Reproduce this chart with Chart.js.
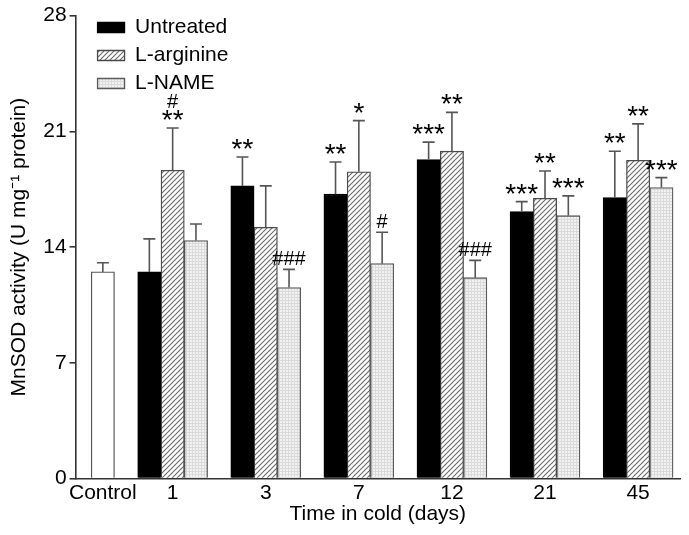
<!DOCTYPE html>
<html>
<head>
<meta charset="utf-8">
<script src="https://cdn.jsdelivr.net/npm/chart.js@4.4.1/dist/chart.umd.min.js"></script>
<style>
  html, body { margin: 0; padding: 0; background: #fff; }
  #wrap { width: 689px; height: 535px; }
</style>
</head>
<body>
<div id="wrap"><canvas id="chartSOD"></canvas></div>
<script>
const days = ["1", "3", "7", "12", "21", "45"];
const controlLabel = "Control";
const controlValue = 12.5;
const controlErr = 0.55;

const untreated = [12.5, 17.7, 17.2, 19.3, 16.15, 17.0];
const untreatedErr = [2.0, 1.75, 1.95, 1.05, 0.6, 2.8];
const arginine = [18.65, 15.2, 18.55, 19.8, 16.95, 19.25];
const arginineErr = [2.55, 2.5, 3.1, 2.35, 1.65, 2.2];
const lname = [14.4, 11.55, 13.0, 12.15, 15.9, 17.6];
const lnameErr = [1.0, 1.1, 1.9, 1.05, 1.2, 0.6];

const untreatedSig = ["", "**", "**", "***", "***", "**"];
const arginineSig = ["#\n**", "", "*", "**", "**", "**"];
const lnameSig = ["", "###", "#", "###", "***", "***"];

const yTicks = [0, 7, 14, 21, 28];

const FONT = "'Liberation Sans', Arial, Helvetica, sans-serif";
const CONTROL_POS = -0.75; // control sits closer to the first group

function makeHatch() {
    let c = document.createElement("canvas");
    c.width = 5; c.height = 5;
    let g = c.getContext("2d");
    g.fillStyle = "#ffffff";
    g.fillRect(0, 0, 5, 5);
    g.strokeStyle = "#6a6a6a";
    g.lineWidth = 1.1;
    g.beginPath();
    g.moveTo(-1, 6); g.lineTo(6, -1);
    g.moveTo(-1, 1); g.lineTo(1, -1);
    g.moveTo(4, 6); g.lineTo(6, 4);
    g.stroke();
    return g.createPattern(c, "repeat");
}

function makeDots() {
    let c = document.createElement("canvas");
    c.width = 3; c.height = 3;
    let g = c.getContext("2d");
    g.fillStyle = "#f2f2f2";
    g.fillRect(0, 0, 3, 3);
    g.fillStyle = "#dadada";
    g.fillRect(0, 0, 3, 1);
    g.fillRect(0, 0, 1, 3);
    return g.createPattern(c, "repeat");
}

let hatch = makeHatch();
let dots = makeDots();

function toPoints(values) {
    return values.map(function (v, i) { return { x: i, y: v }; });
}

// nudge the legend inside the plot area, as in the original figure
let legendShift = {
    id: "legendShift",
    afterLayout: function (chart) {
        if (chart.legend) {
            chart.legend.left += 15;
            chart.legend.top += 10;
        }
    }
};

let errorBars = {
    id: "errorBars",
    afterDatasetsDraw: function (chart) {
        let ctx = chart.ctx;
        let yScale = chart.scales.y;
        ctx.save();
        ctx.strokeStyle = "#555555";
        ctx.lineWidth = 1.6;
        chart.data.datasets.forEach(function (ds, di) {
            let meta = chart.getDatasetMeta(di);
            meta.data.forEach(function (bar, i) {
                let v = ds.data[i].y;
                let top = yScale.getPixelForValue(v + ds.errors[i]);
                ctx.beginPath();
                ctx.moveTo(bar.x, bar.y);
                ctx.lineTo(bar.x, top);
                ctx.moveTo(bar.x - 6, top);
                ctx.lineTo(bar.x + 6, top);
                ctx.stroke();

                let sig = ds.signif ? ds.signif[i] : "";
                if (!sig) return;
                let parts = sig.split("\n").reverse();
                let y = top;
                ctx.fillStyle = "#000";
                ctx.textAlign = "center";
                ctx.textBaseline = "alphabetic";
                parts.forEach(function (p) {
                    if (p.indexOf("*") >= 0) {
                        ctx.font = "28px " + FONT;
                        ctx.fillText(p, bar.x, y + 1);
                        y -= 16;
                    } else {
                        ctx.font = "20px " + FONT;
                        ctx.fillText(p, bar.x, y - 4);
                        y -= 18;
                    }
                });
            });
        });
        ctx.restore();
    }
};

let barBase = {
    barThickness: 23.3,
    borderWidth: 1.3,
    borderSkipped: "bottom"
};

new Chart(document.getElementById("chartSOD"), {
    type: "bar",
    data: {
        datasets: [
            Object.assign({
                label: "Untreated",
                data: toPoints(untreated),
                errors: untreatedErr,
                signif: untreatedSig,
                backgroundColor: "#000000",
                borderColor: "#000000"
            }, barBase),
            Object.assign({
                label: "L-arginine",
                data: toPoints(arginine),
                errors: arginineErr,
                signif: arginineSig,
                backgroundColor: hatch,
                borderColor: "#4a4a4a"
            }, barBase),
            Object.assign({
                label: "L-NAME",
                data: toPoints(lname),
                errors: lnameErr,
                signif: lnameSig,
                backgroundColor: dots,
                borderColor: "#5a5a5a"
            }, barBase),
            Object.assign({
                label: controlLabel,
                data: [{ x: CONTROL_POS, y: controlValue }],
                errors: [controlErr],
                backgroundColor: "#ffffff",
                borderColor: "#555555",
                grouped: false
            }, barBase)
        ]
    },
    options: {
        responsive: true,
        maintainAspectRatio: false,
        animation: false,
        layout: { padding: { top: 8, right: 9, left: 7, bottom: 8 } },
        plugins: {
            tooltip: { enabled: false },
            legend: {
                position: "chartArea",
                align: "start",
                labels: {
                    filter: function (item) { return item.datasetIndex < 3; },
                    boxWidth: 27,
                    boxHeight: 10,
                    padding: 7,
                    color: "#000",
                    font: { family: FONT, size: 21 }
                }
            }
        },
        scales: {
            x: {
                type: "linear",
                offset: false,
                min: -1.043,
                max: 5.45,
                grid: { display: false, drawTicks: false },
                border: { display: true, color: "#333", width: 1.6 },
                afterBuildTicks: function (axis) {
                    axis.ticks = [{ value: CONTROL_POS }].concat(days.map(function (d, i) { return { value: i }; }));
                },
                ticks: {
                    autoSkip: false,
                    maxRotation: 0,
                    padding: 2,
                    color: "#000",
                    font: { family: FONT, size: 21 },
                    callback: function (value) {
                        if (value === CONTROL_POS) return controlLabel;
                        return days[value];
                    }
                },
                title: {
                    display: true,
                    text: "Time in cold (days)",
                    color: "#000",
                    font: { family: FONT, size: 21 },
                    padding: { top: -6, bottom: 0 }
                }
            },
            y: {
                min: 0,
                max: 28,
                afterBuildTicks: function (axis) {
                    axis.ticks = yTicks.map(function (v) { return { value: v }; });
                },
                grid: { drawOnChartArea: false, drawTicks: true, tickLength: 6, color: "#333", lineWidth: 1.6 },
                border: { display: true, color: "#333", width: 1.6 },
                ticks: {
                    padding: 3,
                    color: "#000",
                    font: { family: FONT, size: 21 }
                },
                title: {
                    display: true,
                    text: "MnSOD activity (U mg\u207B\u00B9 protein)",
                    color: "#000",
                    font: { family: FONT, size: 21 },
                    padding: { top: 0, bottom: 8 }
                }
            }
        }
    },
    plugins: [errorBars, legendShift]
});
</script>
</body>
</html>
